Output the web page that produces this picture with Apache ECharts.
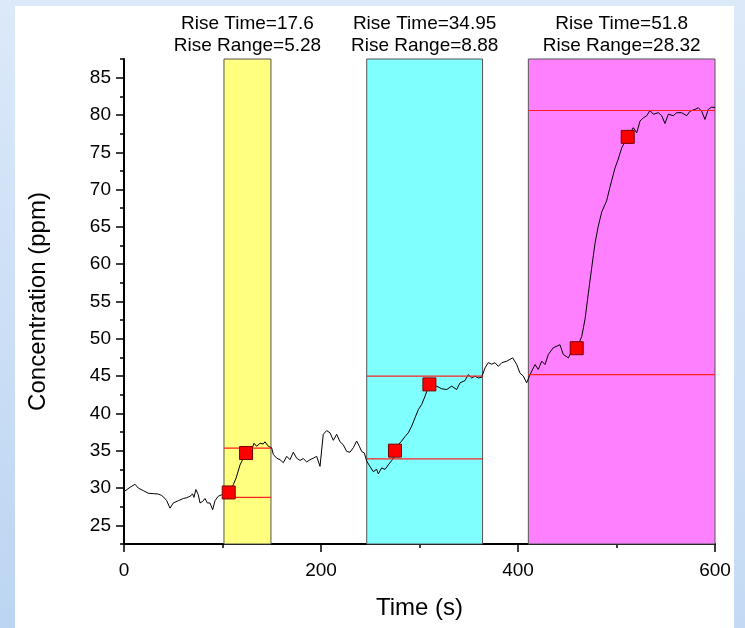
<!DOCTYPE html>
<html>
<head>
<meta charset="utf-8">
<script src="https://cdn.jsdelivr.net/npm/echarts@6/dist/echarts.min.js"></script>
<style>
  html, body { margin: 0; padding: 0; background: #ffffff; }
  #echarts { width: 745px; height: 628px; }
</style>
</head>
<body>
<div id="echarts"></div>
<script>
// sensor trace
const times = [0, 1, 6.1, 11.2, 14.5, 19.6, 24.7, 29.7, 34.8, 38.3, 41.6, 43.4, 46.7, 50, 55.1, 60.2, 63.7, 67, 69.7, 71, 73, 75.4, 77.2, 79.9, 82.2, 84.6, 87.3, 90, 92.4, 95.7, 99.2, 100.8,
  101.5, 106.3, 111, 113.7, 117.8, 121.1, 123.8, 129.6, 132, 134.7, 138.1, 141.4, 143.1, 146.5, 149.9, 151.6, 155, 158.4, 161.7, 165.2, 168.5, 171.9, 175.3, 178.7, 182, 185.5, 188.8, 192.2, 195.6, 199, 200.7,
  202.3, 205.8, 209.1, 212.5, 215.9, 219.3, 222.6, 226.1, 229.4, 232.8, 236.2, 238.9, 241.3, 244, 246.4, 249.7, 253.1, 256.5, 258.2, 261.6, 265, 268.3, 271.8, 273.4, 275.1, 278.5, 281.9, 285.3, 288.6, 292.1, 295.4, 298.8, 302.2, 305.6, 310,
  317.5, 322.5, 327.6, 332.7, 337.8, 341.1, 346.2, 349.5, 353, 356.3, 359.7, 363.1, 366.5, 369.8, 373.3, 376.6, 380, 383.5, 388.5, 394.6, 398.7, 402, 405.4, 408.8, 412.2, 417.3, 420.6, 424.1, 427.4, 430.8, 435.8, 442.6, 446, 451.1, 454.5, 459.6,
  464.7, 468, 471.4, 474.8, 478.2, 481.5, 485, 490, 493.3, 498.5, 501.8, 505.3, 511.4, 517.1, 520.5, 523.9, 527.2, 530.7, 534, 537.4, 542.4, 545.9, 549.2, 552.6, 557.7, 561.1, 566.2, 571.3, 574.6, 579.7, 583.1, 586.5, 589.8, 593.2, 596.6, 600];
const concentration = [29.9, 29.6, 30.1, 30.5, 30.0, 29.65, 29.3, 29.25, 29.2, 29.0, 28.6, 28.3, 27.3, 28.0, 28.3, 28.6, 28.7, 28.9, 29.2, 28.75, 29.8, 29.1, 28.0, 28.2, 28.6, 28.0, 28.0, 27.1, 28.3, 28.9, 29.1, 29.3,
  28.9, 29.41, 30.46, 31.3, 33.1, 34.0, 34.69, 35.15, 36.0, 35.6, 36.0, 35.9, 36.2, 35.6, 35.4, 34.5, 34.0, 33.8, 33.4, 34.25, 33.8, 34.8, 34.0, 33.7, 33.95, 33.5, 33.8, 34.0, 34.25, 32.9, 32.7,
  37.2, 37.7, 37.4, 36.4, 37.2, 36.2, 35.8, 34.9, 34.8, 35.4, 36.3, 35.6, 34.9, 34.7, 33.6, 32.9, 32.2, 32.5, 31.9, 32.7, 32.5, 33.1, 33.7, 34.0, 35.01, 35.8, 36.3, 36.9, 37.4, 38.3, 39.4, 40.5, 41.2, 42.3, 43.89,
  43.65, 43.3, 43.2, 43.65, 43.2, 44.1, 44.4, 45.2, 44.75, 45.0, 44.75, 44.85, 46.1, 46.8, 46.6, 46.8, 46.3, 46.8, 47.0, 47.45, 46.55, 45.4, 45.0, 44.1, 45.2, 46.55, 45.9, 47.0, 46.55, 47.9, 48.8, 49.2, 47.9, 47.45, 48.3, 48.74,
  50.3, 52.6, 56.1, 59.5, 62.8, 65.1, 67.0, 68.5, 70.3, 72.9, 74.1, 75.6, 77.06, 78.3, 77.6, 79.2, 79.6, 79.9, 80.6, 80.1, 80.3, 79.9, 78.85, 80.1, 79.9, 80.3, 80.3, 79.9, 80.5, 80.75, 80.97, 80.5, 79.4, 80.75, 81.05, 81.0];

// analysis windows
const windowStart = [101.5, 246.4, 410.5];
const windowEnd = [149.2, 364, 600];
const windowColors = ['#ffff80', '#80ffff', '#ff80ff'];
const baseLevel = [28.75, 33.9, 45.2];
const topLevel = [35.35, 45.0, 80.6];
const riseTimes = ['17.6', '34.95', '51.8'];
const riseRanges = ['5.28', '8.88', '28.32'];

// 10% / 90% points
const markTimes = [106.3, 123.9, 275.1, 310.05, 459.6, 511.4];
const markValues = [29.41, 34.69, 35.01, 43.89, 48.74, 77.06];

const yTickValues = ['22.5', '25', '27.5', '30', '32.5', '35', '37.5', '40', '42.5', '45', '47.5', '50', '52.5', '55',
  '57.5', '60', '62.5', '65', '67.5', '70', '72.5', '75', '77.5', '80', '82.5', '85', '87.5'];

const font = 'Liberation Sans, Arial, sans-serif';

const myChart = echarts.init(document.getElementById('echarts'), null, { renderer: 'canvas' });

const redLines = [];
for (let i = 0; i < windowStart.length; i++) {
  [baseLevel[i], topLevel[i]].forEach((lvl) => {
    redLines.push({
      type: 'line',
      z: 4,
      symbol: 'none',
      silent: true,
      lineStyle: { color: '#ff2020', width: 1.2 },
      data: [[windowStart[i], lvl], [windowEnd[i], lvl]],
    });
  });
}

myChart.setOption({
  animation: false,
  graphic: [
    {
      type: 'rect', z: -10, shape: { x: 0, y: 0, width: 745, height: 6 },
      style: { fill: '#dce9f9' },
    },
    {
      type: 'rect', z: -10, shape: { x: 0, y: 0, width: 15, height: 628 },
      style: {
        fill: new echarts.graphic.LinearGradient(0, 0, 0, 1, [
          { offset: 0, color: '#dce9f9' },
          { offset: 1, color: '#bcd5f2' },
        ]),
      },
    },
    {
      type: 'rect', z: -10, shape: { x: 734, y: 0, width: 11, height: 628 },
      style: {
        fill: new echarts.graphic.LinearGradient(0, 0, 0, 1, [
          { offset: 0, color: '#dce9f9' },
          { offset: 1, color: '#c4daf4' },
        ]),
      },
    },
  ],
  grid: {
    left: 124,
    right: 30,
    top: 59,
    bottom: 84,
  },
  xAxis: {
    type: 'value',
    min: 0,
    max: 600,
    interval: 200,
    name: 'Time (s)',
    nameLocation: 'middle',
    nameGap: 52,
    nameTextStyle: { fontFamily: font, fontSize: 24, color: '#000' },
    axisLine: { show: true, lineStyle: { color: '#000000', width: 2 } },
    axisTick: { show: true, length: 8, lineStyle: { color: '#000000', width: 1.5 } },
    minorTick: { show: true, splitNumber: 2, length: 4, lineStyle: { color: '#000000', width: 1.5 } },
    axisLabel: { fontFamily: font, fontSize: 19, color: '#000', margin: 17 },
    splitLine: { show: false },
  },
  yAxis: [
    {
      type: 'value',
      min: 22.5,
      max: 87.5,
      interval: 2.5,
      name: 'Concentration (ppm)',
      nameLocation: 'middle',
      nameGap: 74,
      nameTextStyle: { fontFamily: font, fontSize: 24, color: '#000' },
      axisLine: { show: true, lineStyle: { color: '#000000', width: 2 } },
      axisTick: { show: true, length: 4, lineStyle: { color: '#000000', width: 1.5 } },
      axisLabel: { show: false },
      splitLine: { show: false },
    },
    {
      type: 'category',
      position: 'left',
      boundaryGap: false,
      data: yTickValues,
      axisLine: { show: false },
      axisTick: { show: true, length: 8, interval: (idx) => idx % 2 === 1, lineStyle: { color: '#000000', width: 1.5 } },
      axisLabel: { fontFamily: font, fontSize: 19, color: '#000', margin: 13, interval: (idx) => idx % 2 === 1 },
      splitLine: { show: false },
    },
  ],
  series: [
    {
      type: 'line',
      z: 1,
      data: [],
      silent: true,
      markArea: {
        silent: true,
        data: windowStart.map((s, i) => [
          {
            xAxis: s,
            yAxis: 87.5,
            itemStyle: { color: windowColors[i], borderColor: '#555555', borderWidth: 1, opacity: 1 },
            label: {
              show: true,
              position: 'top',
              distance: 2,
              formatter: 'Rise Time=' + riseTimes[i] + '\nRise Range=' + riseRanges[i],
              fontFamily: font,
              fontSize: 19,
              lineHeight: 22,
              color: '#000',
            },
          },
          { xAxis: windowEnd[i], yAxis: 22.5 },
        ]),
      },
    },
    {
      type: 'line',
      z: 3,
      symbol: 'none',
      silent: true,
      lineStyle: { color: '#000000', width: 1 },
      data: times.map((t, i) => [t, concentration[i]]),
    },
    ...redLines,
    {
      type: 'scatter',
      z: 5,
      symbol: 'rect',
      symbolSize: 13,
      itemStyle: { color: '#ff0000', borderColor: '#7a0000', borderWidth: 1, opacity: 1 },
      data: markTimes.map((t, i) => [t, markValues[i]]),
    },
  ],
});
window.addEventListener('resize', myChart.resize);
</script>
</body>
</html>
